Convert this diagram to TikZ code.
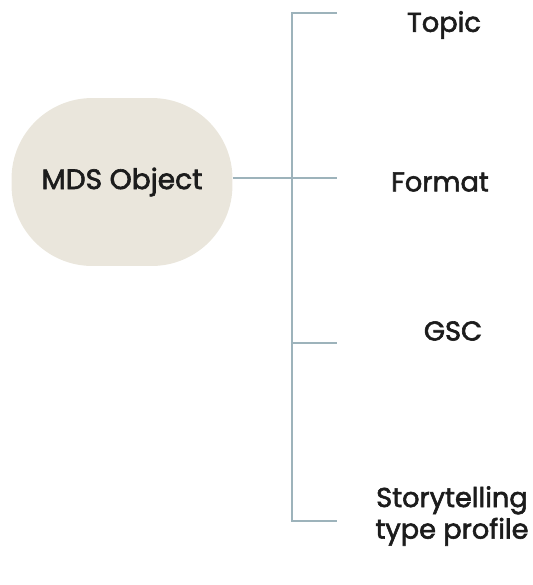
\documentclass[tikz,border=0pt]{standalone}
\usepackage{fontspec}
\setmainfont{Poppins}[RawFeature={embolden=2.2}]
\usepackage{xcolor}
\usepackage{tikz}
\usetikzlibrary{positioning}
\definecolor{blobfill}{HTML}{EAE6DC}
\definecolor{barline}{HTML}{9DB3BB}
\definecolor{ink}{HTML}{1C1C1C}

\begin{document}
\begin{tikzpicture}[x=0.02cm,y=-0.02cm,
    bar/.style={draw=barline, line width=1.1pt},
    leaf/.style={text=ink, font=\fontsize{15.5}{18}\selectfont, align=center}]
    \useasboundingbox (0,0) rectangle (533,585);

    \node[rectangle,
    fill = blobfill,
    text = ink,
    rounded corners=46pt,
    minimum width=4.42cm,
    minimum height=3.36cm,
    font=\fontsize{16}{18}\selectfont] (obj) at (122,182) {MDS Object};

    \foreach \n/\y in {1/13,2/178,3/343,4/521}
    {
    \coordinate (j\n) at (292,\y);
    \coordinate (e\n) at (337,\y);
    }

    \draw[bar] (e1) -- (j1) -- (j4) -- (e4);
    \draw[bar] (obj.east |- j2) -- (e2);
    \draw[bar] (j3) -- (e3);

    \node[leaf] (topic) at (444,25) {Topic};
    \node[leaf] (format) at (440,182) {Format};
    \node[leaf] (gsc) at (453,331) {GSC};
    \node[leaf] (story) at (452,516) {Storytelling\\type profile};
\end{tikzpicture}
\end{document}
